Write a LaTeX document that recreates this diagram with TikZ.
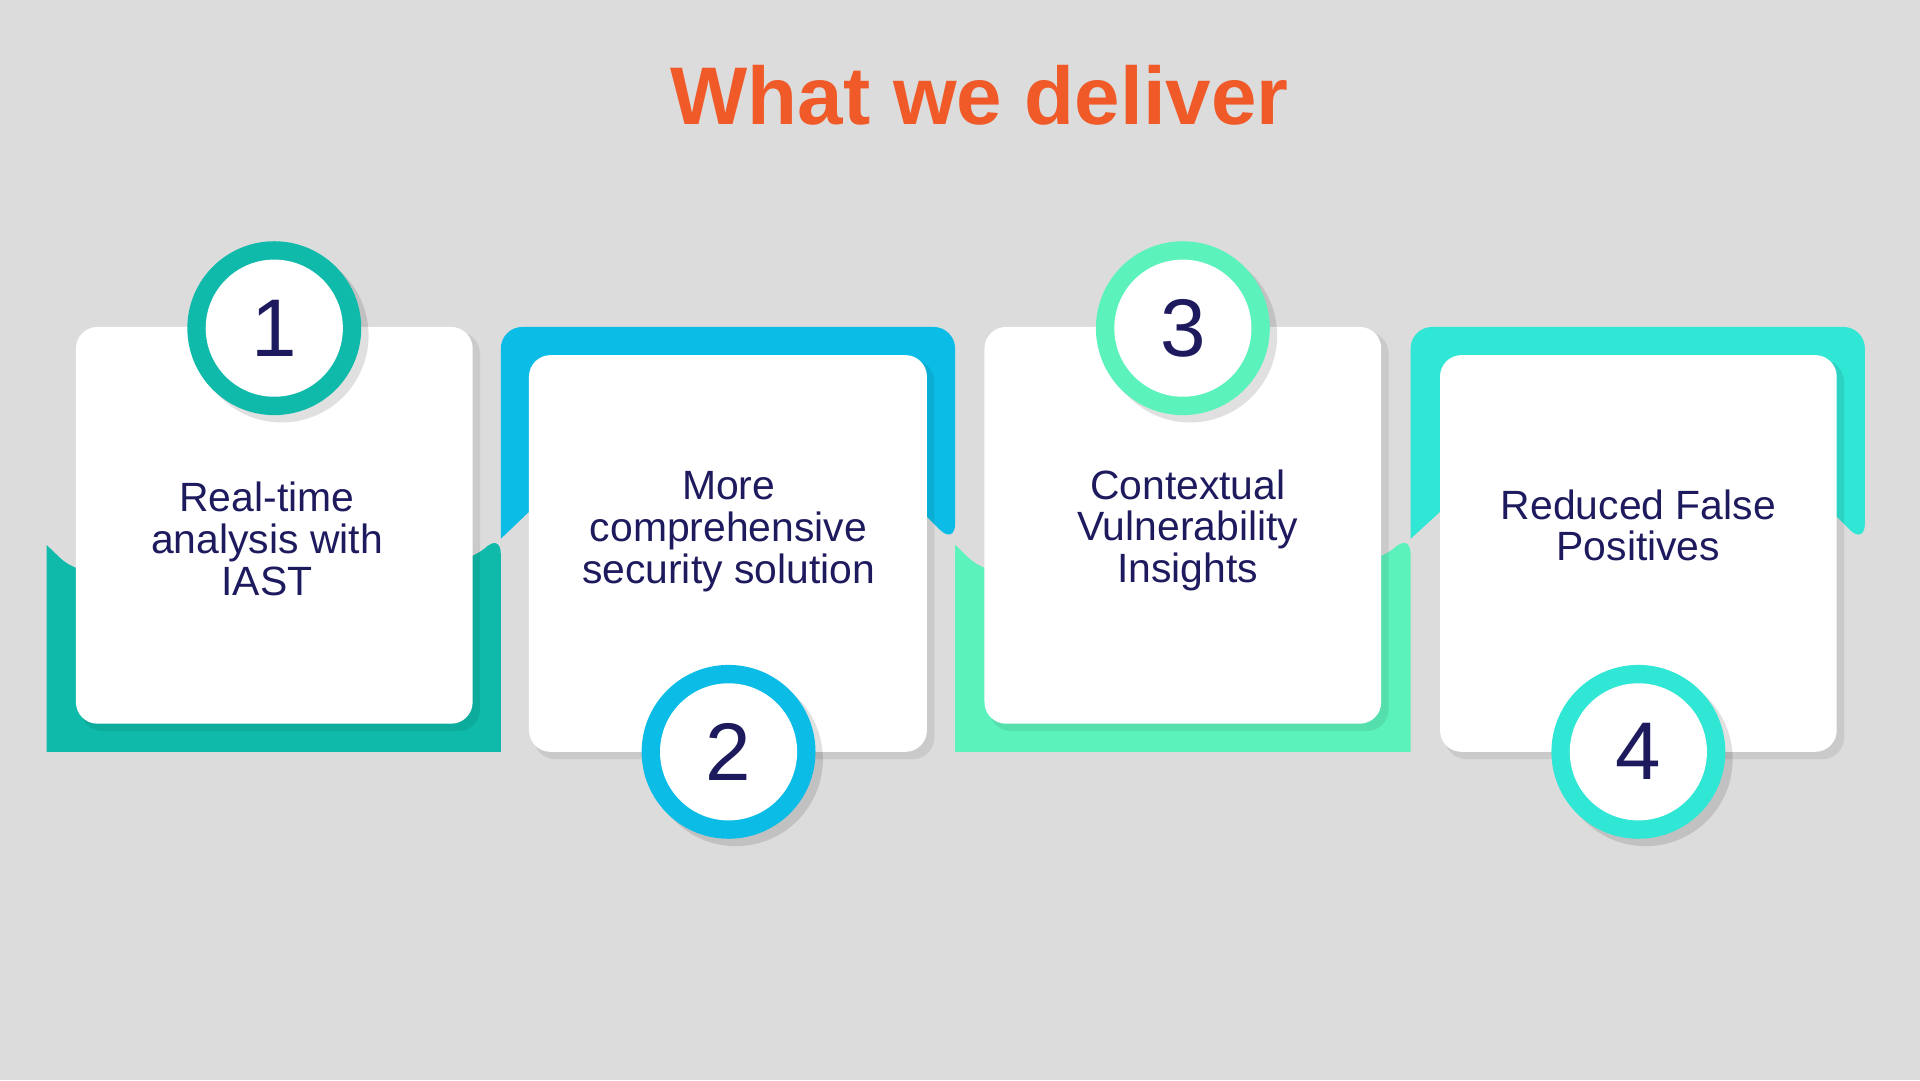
\documentclass[tikz,border=0pt]{standalone}
\usepackage{fontspec}
\setmainfont{Liberation Sans}
\definecolor{bg}{HTML}{DCDCDC}
\definecolor{org}{HTML}{F05A28}
\definecolor{navy}{HTML}{1E1A5E}
\definecolor{cA}{HTML}{0FBAAA}
\definecolor{cB}{HTML}{0BBCE6}
\definecolor{cC}{HTML}{5CF2BC}
\definecolor{cD}{HTML}{30E6D4}
\begin{document}
\begin{tikzpicture}[x=0.1mm,y=-0.1mm,
  card/.style={fill=white,rounded corners=5pt},
  shadowed/.style={fill=black,opacity=0.08,rounded corners=5pt},
  ring/.style={circle,minimum size=142*0.1mm,inner sep=0pt},
  inner/.style={circle,fill=white,minimum size=112*0.1mm,inner sep=0pt,text=navy,font=\fontsize{19pt}{19pt}\selectfont},
  lbl/.style={text=navy,align=center,font=\fontsize{9.5pt}{9.7pt}\selectfont}]
\fill[bg] (0,0) rectangle (1568,882);
\node[text=org,font=\fontsize{19pt}{19pt}\selectfont\bfseries] (title) at (800,78) {What we deliver};
% backings
\fill[cA,rounded corners=5pt] (38,445) -- (62,468) -- (386,458) -- (409,435) [sharp corners]-- (409,614) -- (38,614) -- cycle;
\fill[cB,rounded corners=5pt] (409,440) -- (409,267) -- (780,267) -- (780,445)[sharp corners] -- (757,422) -- (432,418) -- cycle;
\fill[cC,rounded corners=5pt] (780,445) -- (804,468) -- (1128,458) -- (1152,435) [sharp corners]-- (1152,614) -- (780,614) -- cycle;
\fill[cD,rounded corners=5pt] (1152,440) -- (1152,267) -- (1523,267) -- (1523,445)[sharp corners] -- (1500,422) -- (1176,418) -- cycle;
% shadows and cards
\fill[shadowed] (66,271) rectangle (392,597);
\fill[shadowed] (436,294) rectangle (763,620);
\fill[shadowed] (808,271) rectangle (1134,597);
\fill[shadowed] (1180,294) rectangle (1506,620);
\fill[card] (62,267) rectangle (386,591);
\fill[card] (432,290) rectangle (757,614);
\fill[card] (804,267) rectangle (1128,591);
\fill[card] (1176,290) rectangle (1500,614);
% circles
\fill[black,opacity=0.12] (230,274) circle (71);
\fill[black,opacity=0.12] (601,620) circle (71);
\fill[black,opacity=0.12] (972,274) circle (71);
\fill[black,opacity=0.12] (1344,620) circle (71);
\node[ring,fill=cA] (r1) at (224,268) {};
\node[ring,fill=cB] (r2) at (595,614) {};
\node[ring,fill=cC] (r3) at (966,268) {};
\node[ring,fill=cD] (r4) at (1338,614) {};
\node[inner] (n1) at (224,268) {1};
\node[inner] (n2) at (595,614) {2};
\node[inner] (n3) at (966,268) {3};
\node[inner] (n4) at (1338,614) {4};
\node[lbl] (t1) at (218,440) {Real-time\\analysis with\\IAST};
\node[lbl] (t2) at (595,434) {More\\comprehensive\\security solution};
\node[lbl] (t3) at (970,433) {Contextual\\Vulnerability\\Insights};
\node[lbl] (t4) at (1338,429) {Reduced False\\Positives};
\end{tikzpicture}
\end{document}
